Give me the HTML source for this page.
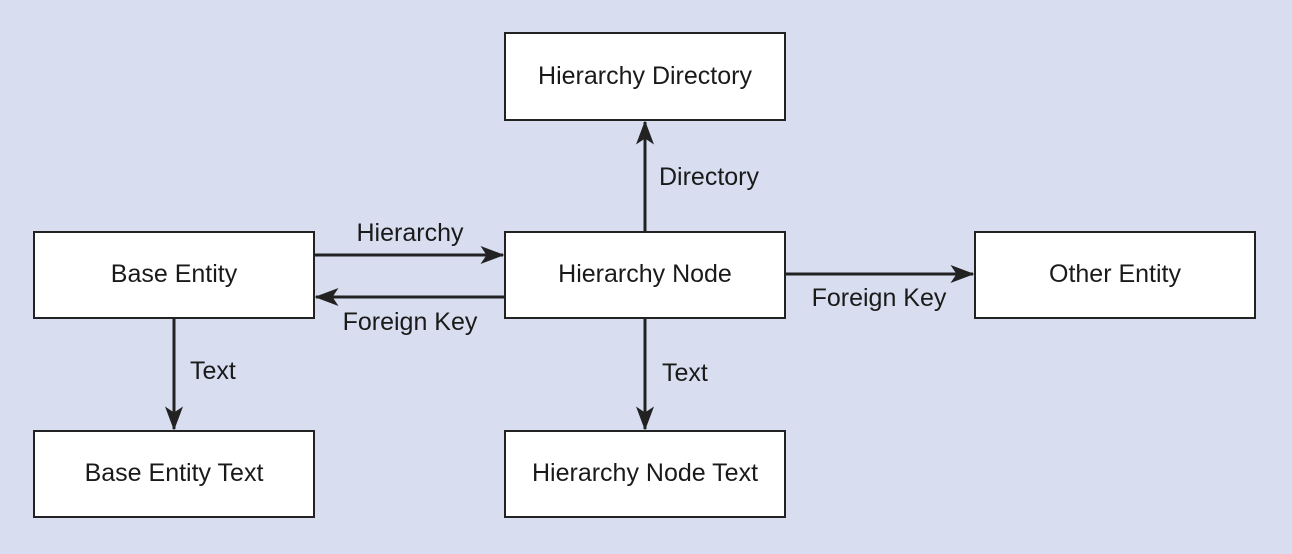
<!DOCTYPE html>
<html><head><style>
body{margin:0;width:1292px;height:554px;background:#d8def0;overflow:hidden}
svg{display:block}
text{font-family:"Liberation Sans",sans-serif;font-size:25px;fill:#1a1a1a}
</style></head><body>
<svg width="1292" height="554" viewBox="0 0 1292 554">
<defs><marker id="a" markerWidth="8" markerHeight="6" refX="7.5" refY="3" orient="auto" markerUnits="strokeWidth"><path d="M0,0 L8,3 L0,6 L2,3 Z" fill="#222"/></marker></defs>
<rect x="0" y="0" width="1292" height="554" fill="#d8def0"/>
<g fill="#fff" stroke="#222" stroke-width="2">
<rect x="505" y="33" width="280" height="87"/>
<rect x="34" y="232" width="280" height="86"/>
<rect x="505" y="232" width="280" height="86"/>
<rect x="975" y="232" width="280" height="86"/>
<rect x="34" y="431" width="280" height="86"/>
<rect x="505" y="431" width="280" height="86"/>
</g>
<g stroke="#222" stroke-width="3" marker-end="url(#a)">
<line x1="314" y1="255" x2="503" y2="255"/>
<line x1="505" y1="297" x2="316" y2="297"/>
<line x1="645" y1="232" x2="645" y2="122"/>
<line x1="174" y1="318" x2="174" y2="429"/>
<line x1="645" y1="318" x2="645" y2="429"/>
<line x1="785" y1="274" x2="973" y2="274"/>
</g>
<g text-anchor="middle">
<text x="645" y="84">Hierarchy Directory</text>
<text x="174" y="282">Base Entity</text>
<text x="645" y="282">Hierarchy Node</text>
<text x="1115" y="282">Other Entity</text>
<text x="174" y="481">Base Entity Text</text>
<text x="645" y="481">Hierarchy Node Text</text>
<text x="410" y="241">Hierarchy</text>
<text x="410" y="330">Foreign Key</text>
<text x="879" y="306">Foreign Key</text>
</g>
<text x="659" y="185">Directory</text>
<text x="190" y="379">Text</text>
<text x="662" y="381">Text</text>
</svg>
</body></html>
